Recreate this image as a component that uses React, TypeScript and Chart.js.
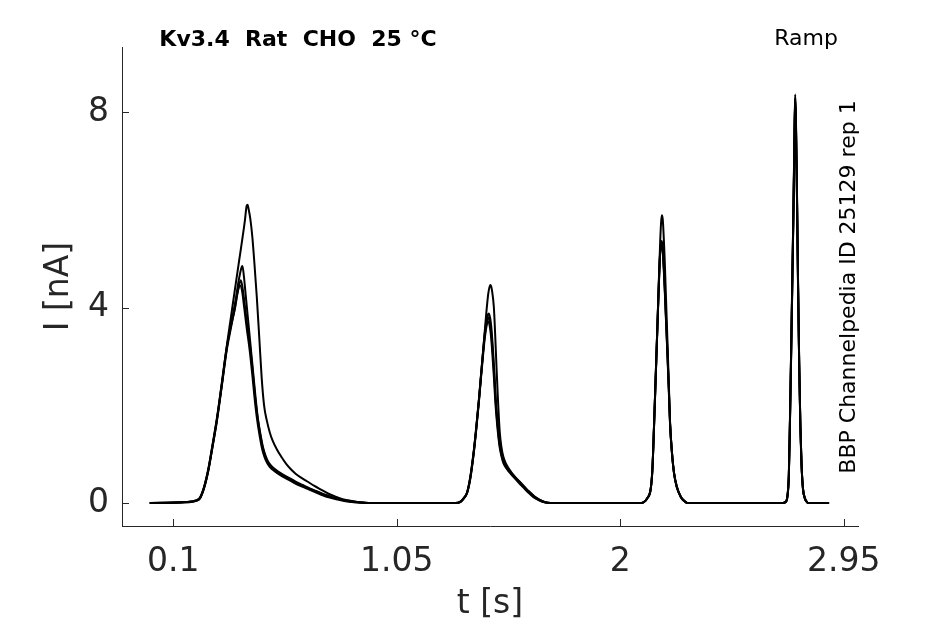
import React, { useEffect, useRef } from 'react';
import { Chart, registerables } from 'chart.js';

Chart.register(...registerables);

// tick values / labels
const xTickValues = [0.1, 1.05, 2, 2.95];
const yTickValues = [0, 4, 8];

const titleText = 'Kv3.4  Rat  CHO  25 °C';
const protocolText = 'Ramp';
const sideText = 'BBP Channelpedia ID 25129 rep 1';

// [t (s), I (nA)], one array per ramp and per sweep
const peak1A = [[0, 0], [0.15, 0.02], [0.2, 0.06], [0.214, 0.12], [0.232, 0.35], [0.249, 0.7], [0.267, 1.2], [0.285, 1.72], [0.306, 2.45], [0.327, 3.2], [0.345, 3.8], [0.363, 4.4], [0.38, 4.96], [0.395, 5.45], [0.405, 5.8], [0.412, 6.08], [0.416, 6.1], [0.42, 6.02], [0.428, 5.8], [0.436, 5.45], [0.445, 4.9], [0.455, 4.22], [0.466, 3.35], [0.476, 2.55], [0.486, 2.0], [0.498, 1.68], [0.51, 1.45], [0.522, 1.28], [0.54, 1.1], [0.56, 0.94], [0.58, 0.8], [0.6, 0.69], [0.62, 0.6], [0.64, 0.53], [0.67, 0.44], [0.7, 0.35], [0.73, 0.27], [0.76, 0.19], [0.79, 0.13], [0.82, 0.08], [0.86, 0.04], [0.9, 0.01], [0.93, 0]];
const peak1B = [[0, 0], [0.15, 0.02], [0.2, 0.06], [0.214, 0.11], [0.232, 0.33], [0.249, 0.68], [0.267, 1.18], [0.285, 1.7], [0.306, 2.4], [0.327, 3.15], [0.345, 3.65], [0.363, 4.1], [0.378, 4.55], [0.39, 4.82], [0.394, 4.85], [0.4, 4.65], [0.408, 4.25], [0.418, 3.75], [0.428, 3.25], [0.439, 2.7], [0.45, 2.15], [0.46, 1.72], [0.471, 1.4], [0.482, 1.13], [0.493, 0.96], [0.503, 0.85], [0.515, 0.77], [0.533, 0.69], [0.56, 0.6], [0.59, 0.52], [0.62, 0.44], [0.65, 0.37], [0.68, 0.3], [0.71, 0.24], [0.74, 0.18], [0.77, 0.13], [0.81, 0.08], [0.85, 0.04], [0.9, 0.01], [0.93, 0]];
const peak1C = [[0, 0], [0.15, 0.01], [0.2, 0.05], [0.214, 0.1], [0.232, 0.34], [0.249, 0.67], [0.267, 1.16], [0.285, 1.68], [0.306, 2.42], [0.327, 3.18], [0.345, 3.62], [0.363, 4.0], [0.376, 4.38], [0.387, 4.56], [0.394, 4.42], [0.404, 4.05], [0.415, 3.6], [0.427, 3.18], [0.438, 2.68], [0.448, 2.17], [0.458, 1.76], [0.469, 1.42], [0.48, 1.14], [0.49, 0.97], [0.5, 0.85], [0.512, 0.76], [0.53, 0.67], [0.56, 0.57], [0.59, 0.5], [0.62, 0.42], [0.65, 0.35], [0.68, 0.29], [0.71, 0.23], [0.74, 0.17], [0.77, 0.12], [0.81, 0.07], [0.85, 0.03], [0.9, 0.01], [0.93, 0]];
const peak1D = [[0, 0], [0.15, 0.02], [0.2, 0.05], [0.214, 0.1], [0.232, 0.32], [0.249, 0.66], [0.267, 1.15], [0.285, 1.66], [0.306, 2.38], [0.327, 3.12], [0.345, 3.58], [0.36, 3.95], [0.373, 4.3], [0.384, 4.45], [0.392, 4.35], [0.402, 3.98], [0.413, 3.55], [0.425, 3.12], [0.436, 2.62], [0.446, 2.13], [0.456, 1.72], [0.467, 1.38], [0.478, 1.1], [0.488, 0.94], [0.498, 0.83], [0.51, 0.74], [0.528, 0.66], [0.555, 0.57], [0.585, 0.49], [0.615, 0.41], [0.645, 0.34], [0.675, 0.28], [0.705, 0.22], [0.735, 0.16], [0.765, 0.11], [0.8, 0.07], [0.84, 0.03], [0.88, 0.01], [0.92, 0]];

const peak2A = [[1.3, 0], [1.321, 0.03], [1.335, 0.1], [1.349, 0.22], [1.363, 0.55], [1.377, 1.05], [1.388, 1.55], [1.399, 2.1], [1.408, 2.6], [1.417, 3.1], [1.424, 3.5], [1.431, 3.9], [1.439, 4.28], [1.445, 4.43], [1.449, 4.46], [1.455, 4.35], [1.463, 4.0], [1.468, 3.5], [1.474, 2.8], [1.48, 2.15], [1.488, 1.45], [1.495, 1.15], [1.503, 0.95], [1.515, 0.8], [1.53, 0.68], [1.548, 0.56], [1.57, 0.44], [1.59, 0.34], [1.61, 0.24], [1.633, 0.14], [1.655, 0.07], [1.675, 0.03], [1.704, 0]];
const peak2B = [[1.3, 0], [1.321, 0.03], [1.335, 0.1], [1.349, 0.21], [1.363, 0.53], [1.377, 1.03], [1.388, 1.53], [1.399, 2.09], [1.408, 2.6], [1.417, 3.1], [1.424, 3.46], [1.431, 3.72], [1.437, 3.85], [1.442, 3.88], [1.448, 3.76], [1.453, 3.55], [1.459, 3.15], [1.465, 2.68], [1.471, 2.15], [1.479, 1.64], [1.489, 1.2], [1.498, 0.97], [1.506, 0.83], [1.521, 0.71], [1.536, 0.62], [1.55, 0.55], [1.572, 0.44], [1.592, 0.34], [1.612, 0.24], [1.635, 0.14], [1.657, 0.07], [1.677, 0.02], [1.705, 0]];
const peak2C = [[1.3, 0], [1.321, 0.03], [1.335, 0.1], [1.349, 0.21], [1.363, 0.52], [1.377, 1.02], [1.388, 1.52], [1.399, 2.08], [1.408, 2.58], [1.417, 3.08], [1.424, 3.42], [1.431, 3.66], [1.437, 3.78], [1.441, 3.8], [1.447, 3.68], [1.452, 3.48], [1.458, 3.1], [1.464, 2.65], [1.47, 2.12], [1.478, 1.62], [1.488, 1.18], [1.497, 0.96], [1.505, 0.82], [1.52, 0.7], [1.535, 0.61], [1.548, 0.54], [1.57, 0.43], [1.59, 0.33], [1.61, 0.23], [1.633, 0.13], [1.655, 0.06], [1.675, 0.02], [1.704, 0]];
const peak2D = [[1.3, 0], [1.321, 0.02], [1.335, 0.09], [1.349, 0.2], [1.363, 0.5], [1.377, 1.0], [1.388, 1.5], [1.399, 2.05], [1.408, 2.55], [1.417, 3.02], [1.424, 3.36], [1.431, 3.6], [1.436, 3.7], [1.44, 3.72], [1.446, 3.6], [1.451, 3.4], [1.457, 3.02], [1.463, 2.58], [1.469, 2.08], [1.477, 1.6], [1.487, 1.16], [1.496, 0.94], [1.504, 0.81], [1.519, 0.69], [1.534, 0.6], [1.547, 0.53], [1.568, 0.42], [1.588, 0.32], [1.608, 0.22], [1.631, 0.12], [1.653, 0.06], [1.673, 0.02], [1.702, 0]];

const peak3A = [[2.09, 0], [2.101, 0.02], [2.115, 0.1], [2.13, 0.3], [2.137, 0.7], [2.144, 1.6], [2.151, 2.6], [2.158, 3.6], [2.164, 4.5], [2.17, 5.35], [2.174, 5.75], [2.177, 5.89], [2.181, 5.8], [2.185, 5.45], [2.189, 5.0], [2.195, 4.15], [2.201, 3.3], [2.207, 2.4], [2.212, 1.65], [2.22, 1.05], [2.229, 0.62], [2.24, 0.35], [2.258, 0.13], [2.272, 0.05], [2.286, 0]];
const peak3B = [[2.09, 0], [2.101, 0.02], [2.115, 0.1], [2.13, 0.3], [2.137, 0.7], [2.144, 1.6], [2.151, 2.6], [2.158, 3.58], [2.164, 4.45], [2.17, 5.15], [2.174, 5.33], [2.177, 5.36], [2.181, 5.22], [2.185, 4.88], [2.189, 4.48], [2.195, 3.78], [2.201, 3.08], [2.207, 2.32], [2.212, 1.64], [2.22, 1.04], [2.229, 0.61], [2.24, 0.35], [2.258, 0.12], [2.272, 0.04], [2.286, 0]];
const peak3C = [[2.09, 0], [2.101, 0.02], [2.115, 0.1], [2.13, 0.3], [2.137, 0.7], [2.144, 1.6], [2.151, 2.6], [2.158, 3.6], [2.164, 4.45], [2.17, 5.15], [2.174, 5.3], [2.177, 5.32], [2.181, 5.2], [2.185, 4.85], [2.189, 4.45], [2.195, 3.75], [2.201, 3.05], [2.207, 2.3], [2.212, 1.62], [2.22, 1.03], [2.229, 0.6], [2.24, 0.34], [2.258, 0.12], [2.272, 0.04], [2.286, 0]];
const peak3D = [[2.09, 0], [2.101, 0.02], [2.115, 0.09], [2.13, 0.29], [2.137, 0.68], [2.144, 1.57], [2.151, 2.56], [2.158, 3.55], [2.164, 4.4], [2.17, 5.1], [2.174, 5.24], [2.177, 5.26], [2.181, 5.14], [2.185, 4.8], [2.189, 4.4], [2.195, 3.7], [2.201, 3.0], [2.207, 2.26], [2.212, 1.6], [2.22, 1.02], [2.229, 0.6], [2.24, 0.33], [2.258, 0.12], [2.272, 0.04], [2.286, 0]];

const peak4A = [[2.69, 0], [2.704, 0.03], [2.711, 0.15], [2.717, 0.6], [2.722, 1.8], [2.727, 3.2], [2.732, 4.7], [2.737, 6.2], [2.741, 7.6], [2.744, 8.36], [2.747, 7.9], [2.751, 6.6], [2.756, 4.6], [2.761, 2.9], [2.766, 1.6], [2.771, 0.8], [2.777, 0.3], [2.785, 0.1], [2.794, 0.02], [2.8, 0], [2.888, 0]];
const peak4B = [[2.69, 0], [2.704, 0.03], [2.711, 0.14], [2.717, 0.58], [2.722, 1.76], [2.727, 3.15], [2.732, 4.65], [2.737, 6.15], [2.741, 7.55], [2.744, 8.3], [2.747, 7.85], [2.751, 6.55], [2.756, 4.55], [2.761, 2.86], [2.766, 1.58], [2.771, 0.79], [2.777, 0.3], [2.785, 0.1], [2.794, 0.02], [2.8, 0], [2.888, 0]];
const peak4C = [[2.69, 0], [2.704, 0.02], [2.711, 0.14], [2.717, 0.57], [2.722, 1.74], [2.727, 3.12], [2.732, 4.6], [2.737, 6.1], [2.741, 7.5], [2.744, 8.27], [2.747, 7.8], [2.751, 6.5], [2.756, 4.5], [2.761, 2.83], [2.766, 1.56], [2.771, 0.78], [2.777, 0.29], [2.785, 0.1], [2.794, 0.02], [2.8, 0], [2.888, 0]];
const peak4D = [[2.69, 0], [2.704, 0.02], [2.711, 0.13], [2.717, 0.55], [2.722, 1.7], [2.727, 3.08], [2.732, 4.55], [2.737, 6.05], [2.741, 7.45], [2.744, 8.22], [2.747, 7.75], [2.751, 6.45], [2.756, 4.45], [2.761, 2.8], [2.766, 1.55], [2.771, 0.77], [2.777, 0.29], [2.785, 0.09], [2.794, 0.02], [2.8, 0], [2.888, 0]];

const sweeps = [
  [...peak1A, ...peak2A, ...peak3A, ...peak4A],
  [...peak1B, ...peak2B, ...peak3B, ...peak4B],
  [...peak1C, ...peak2C, ...peak3C, ...peak4C],
  [...peak1D, ...peak2D, ...peak3D, ...peak4D],
];

const FONT = '"DejaVu Sans", sans-serif';
const AXIS_COLOR = '#262626';

// MATLAB-like inward ticks plus the free text labels
const decorPlugin = {
  id: 'decor',
  afterDraw(chart: any) {
    const { ctx, chartArea, scales } = chart;
    ctx.save();
    ctx.strokeStyle = AXIS_COLOR;
    ctx.lineWidth = 1;
    scales.x.ticks.forEach((t: any) => {
      const px = Math.round(scales.x.getPixelForValue(t.value)) + 0.5;
      ctx.beginPath();
      ctx.moveTo(px, chartArea.bottom);
      ctx.lineTo(px, chartArea.bottom - 7);
      ctx.stroke();
    });
    scales.y.ticks.forEach((t: any) => {
      const py = Math.round(scales.y.getPixelForValue(t.value)) + 0.5;
      ctx.beginPath();
      ctx.moveTo(chartArea.left, py);
      ctx.lineTo(chartArea.left + 7, py);
      ctx.stroke();
    });

    ctx.fillStyle = '#000';
    ctx.textAlign = 'center';
    ctx.textBaseline = 'middle';
    ctx.font = 'bold 22px ' + FONT;
    ctx.fillText(titleText, 298, 40);
    ctx.font = '22px ' + FONT;
    ctx.fillText(protocolText, 806, 39);
    ctx.translate(849, 287);
    ctx.rotate(-Math.PI / 2);
    ctx.fillText(sideText, 0, 0);
    ctx.restore();
  },
};

const App: React.FC = () => {
  const chartRef = useRef<HTMLCanvasElement>(null);
  const chartInstanceRef = useRef<Chart | null>(null);

  useEffect(() => {
    if (!chartRef.current) return;
    const ctx = chartRef.current.getContext('2d');
    if (!ctx) return;
    if (chartInstanceRef.current) chartInstanceRef.current.destroy();

    chartInstanceRef.current = new Chart(ctx, {
      type: 'line',
      data: {
        datasets: sweeps.map((s, i) => ({
          label: 'sweep ' + (i + 1),
          data: s.map(([t, v]) => ({ x: t, y: v })),
          borderColor: '#000',
          borderWidth: 2,
          pointRadius: 0,
          cubicInterpolationMode: 'monotone' as const,
          fill: false,
        })),
      },
      options: {
        responsive: true,
        maintainAspectRatio: false,
        animation: false,
        layout: { padding: { top: 47, right: 87, left: 0, bottom: 0 } },
        plugins: {
          legend: { display: false },
          tooltip: { enabled: false },
        },
        scales: {
          x: {
            type: 'linear',
            min: -0.118,
            max: 3.011,
            grid: { display: false, drawTicks: false },
            border: { display: true, color: AXIS_COLOR, width: 1 },
            afterBuildTicks: (scale: any) => {
              scale.ticks = xTickValues.map((v) => ({ value: v }));
            },
            afterFit: (scale: any) => {
              scale.height = 98;
            },
            ticks: {
              autoSkip: false,
              maxRotation: 0,
              padding: 17,
              color: AXIS_COLOR,
              font: { family: FONT, size: 33 },
              callback: (v: any) => String(v),
            },
            title: {
              display: true,
              text: 't [s]',
              color: AXIS_COLOR,
              font: { family: FONT, size: 33 },
              padding: { top: 0, bottom: 0 },
            },
          },
          y: {
            type: 'linear',
            min: -0.47,
            max: 9.33,
            grid: { display: false, drawTicks: false },
            border: { display: true, color: AXIS_COLOR, width: 1 },
            afterBuildTicks: (scale: any) => {
              scale.ticks = yTickValues.map((v) => ({ value: v }));
            },
            afterFit: (scale: any) => {
              scale.width = 122;
            },
            ticks: {
              padding: 13,
              color: AXIS_COLOR,
              font: { family: FONT, size: 33 },
              callback: (v: any) => String(v),
            },
            title: {
              display: true,
              text: 'I [nA]',
              color: AXIS_COLOR,
              font: { family: FONT, size: 33 },
              padding: { top: 40, bottom: 0 },
            },
          },
        },
      },
      plugins: [decorPlugin],
    });

    return () => {
      if (chartInstanceRef.current) {
        chartInstanceRef.current.destroy();
        chartInstanceRef.current = null;
      }
    };
  }, []);

  return (
    <div style={{ position: 'fixed', left: 0, top: 0, width: 945, height: 624, background: '#fff' }}>
      <canvas ref={chartRef}></canvas>
    </div>
  );
};

export default App;
